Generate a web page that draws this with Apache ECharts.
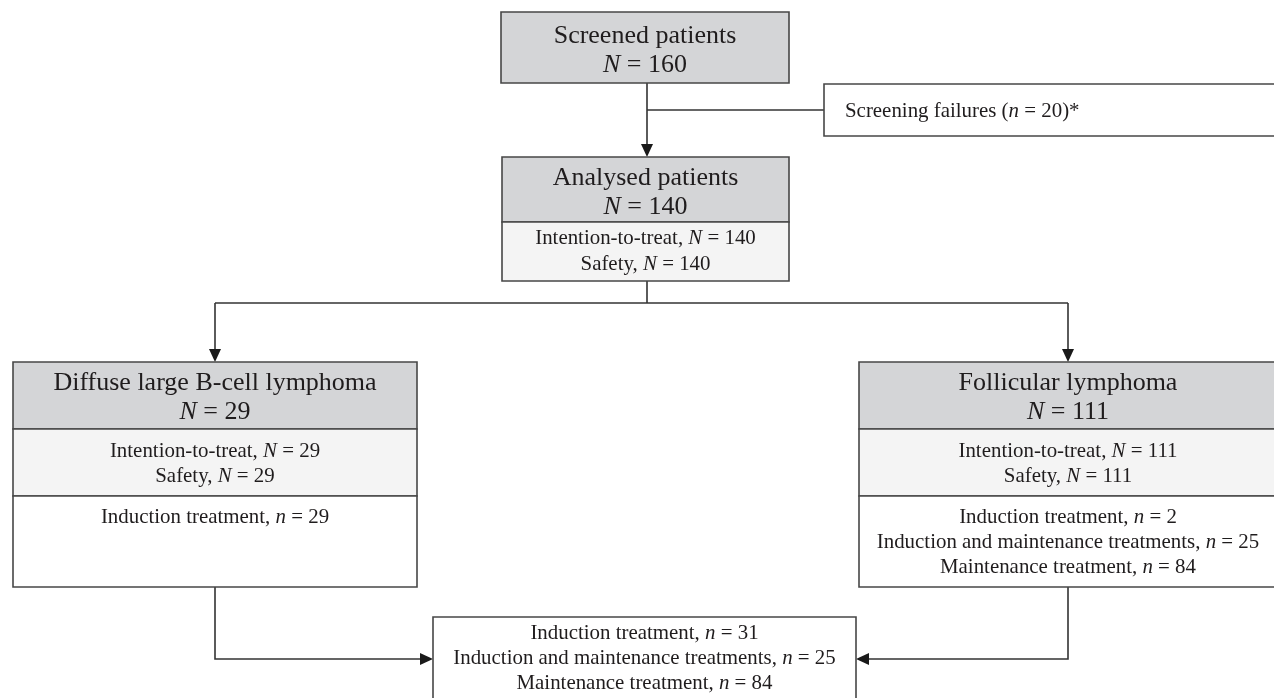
<!DOCTYPE html>
<html>
<head>
<meta charset="utf-8">
<script src="https://cdn.jsdelivr.net/npm/echarts@6/dist/echarts.min.js"></script>
<style>
html,body{margin:0;padding:0;background:#fff;}
#chart{width:1274px;height:698px;}
</style>
</head>
<body>
<div id="chart"></div>
<script>
// ---- Data ----
const stageLabels = ['Screened patients', 'Analysed patients', 'Diffuse large B-cell lymphoma', 'Follicular lymphoma'];
const stageN = [160, 140, 29, 111];
const ittN = [null, 140, 29, 111];
const safetyN = [null, 140, 29, 111];
const screeningFailuresN = 20;
const treatmentLabels = ['Induction treatment', 'Induction and maintenance treatments', 'Maintenance treatment'];
const dlbclTreatmentN = [29, null, null];
const flTreatmentN = [2, 25, 84];
const totalTreatmentN = [31, 25, 84];

// ---- Layout (axis units = pixels of the 1274x698 canvas) ----
const FONT = 'Liberation Serif, Times New Roman, serif';
const HEADER_FILL = '#d4d5d7';
const SUB_FILL = '#f4f4f4';
const WHITE = '#ffffff';
const BORDER = '#474747';
const TEXT = '#1f1c1d';
const H = 26, S = 20.9;

function headerText(i) { return stageLabels[i] + '\n{i|N} = ' + stageN[i]; }
function subText(i) { return 'Intention-to-treat, {i|N} = ' + ittN[i] + '\nSafety, {i|N} = ' + safetyN[i]; }
function treatText(arr) {
  return arr.map((v, k) => v == null ? null : treatmentLabels[k] + ', {i|n} = ' + v).filter(s => s).join('\n');
}

const sections = [
  // screened
  {x0: 501, x1: 789, y0: 12, y1: 83, fill: HEADER_FILL, text: headerText(0), size: H, lh: 29, va: 'middle', dy: 3},
  // analysed
  {x0: 502, x1: 789, y0: 157, y1: 222, fill: HEADER_FILL, text: headerText(1), size: H, lh: 29, va: 'middle', dy: 3},
  {x0: 502, x1: 789, y0: 222, y1: 281, fill: SUB_FILL, text: subText(1), size: S, lh: 25.5, va: 'middle', dy: 0},
  // screening failures
  {x0: 824, x1: 1282, y0: 84, y1: 136, fill: WHITE, text: 'Screening failures ({i|n} = ' + screeningFailuresN + ')*', size: S, lh: 25, va: 'middle', align: 'left', padX: 21, dy: 2},
  // DLBCL
  {x0: 13, x1: 417, y0: 362, y1: 429, fill: HEADER_FILL, text: headerText(2), size: H, lh: 29, va: 'middle', dy: 2},
  {x0: 13, x1: 417, y0: 429, y1: 496, fill: SUB_FILL, text: subText(2), size: S, lh: 25, va: 'middle', dy: 2},
  {x0: 13, x1: 417, y0: 496, y1: 587, fill: WHITE, text: treatText(dlbclTreatmentN), size: S, lh: 25, va: 'top', padY: 9},
  // FL
  {x0: 859, x1: 1282, y0: 362, y1: 429, fill: HEADER_FILL, text: headerText(3), size: H, lh: 29, va: 'middle', dy: 2, cx: 1068},
  {x0: 859, x1: 1282, y0: 429, y1: 496, fill: SUB_FILL, text: subText(3), size: S, lh: 25, va: 'middle', dy: 2, cx: 1068},
  {x0: 859, x1: 1282, y0: 496, y1: 587, fill: WHITE, text: treatText(flTreatmentN), size: S, lh: 25, va: 'top', padY: 9, cx: 1068},
  // Total
  {x0: 433, x1: 856, y0: 617, y1: 706, fill: WHITE, text: treatText(totalTreatmentN), size: S, lh: 25, va: 'top', padY: 4}
];

const connectors = [
  {pts: [[647, 83], [647, 157]], arrow: true},
  {pts: [[647, 110], [824, 110]], arrow: false},
  {pts: [[647, 281], [647, 303]], arrow: false},
  {pts: [[215, 303], [1068, 303]], arrow: false},
  {pts: [[215, 303], [215, 362]], arrow: true},
  {pts: [[1068, 303], [1068, 362]], arrow: true},
  {pts: [[215, 587], [215, 659], [433, 659]], arrow: true},
  {pts: [[1068, 587], [1068, 659], [856, 659]], arrow: true}
];

const chart = echarts.init(document.getElementById('chart'), null, {renderer: 'canvas'});

function renderBox(params, api) {
  const s = sections[params.dataIndex];
  const p0 = api.coord([s.x0, s.y0]);
  const p1 = api.coord([s.x1, s.y1]);
  const x = Math.min(p0[0], p1[0]), y = Math.min(p0[1], p1[1]);
  const w = Math.abs(p1[0] - p0[0]), h = Math.abs(p1[1] - p0[1]);
  const align = s.align || 'center';
  let tx;
  if (align === 'left') tx = x + (s.padX || 0);
  else tx = s.cx != null ? api.coord([s.cx, 0])[0] : x + w / 2;
  let ty = s.va === 'top' ? y + (s.padY || 0) : y + h / 2 + (s.dy || 0);
  return {
    type: 'group',
    children: [
      {type: 'rect', shape: {x: x, y: y, width: w, height: h},
       style: {fill: s.fill, stroke: BORDER, lineWidth: 1.6}},
      {type: 'text', style: {
        text: s.text, x: tx, y: ty, align: align, verticalAlign: s.va,
        fontFamily: FONT, fontSize: s.size, lineHeight: s.lh, fill: TEXT,
        rich: {i: {fontStyle: 'italic', fontFamily: FONT, fontSize: s.size, lineHeight: s.lh, fill: TEXT}}
      }}
    ]
  };
}

function renderConnector(params, api) {
  const c = connectors[params.dataIndex];
  const pts = c.pts.map(p => api.coord(p));
  const children = [];
  const n = pts.length;
  let linePts = pts.slice();
  if (c.arrow) {
    const a = pts[n - 2], b = pts[n - 1];
    const dx = b[0] - a[0], dy = b[1] - a[1];
    const len = Math.sqrt(dx * dx + dy * dy);
    const ux = dx / len, uy = dy / len;
    const L = 13, W = 6;
    const bx = b[0] - ux * L, by = b[1] - uy * L;
    linePts[n - 1] = [bx, by];
    children.push({type: 'polygon', shape: {points: [[b[0], b[1]], [bx - uy * W, by + ux * W], [bx + uy * W, by - ux * W]]},
      style: {fill: '#1a1a1a'}});
  }
  children.unshift({type: 'polyline', shape: {points: linePts}, style: {stroke: '#333333', lineWidth: 1.6, fill: null}});
  return {type: 'group', children: children};
}

chart.setOption({
  animation: false,
  backgroundColor: '#ffffff',
  grid: {left: 0, right: 0, top: 0, bottom: 0},
  xAxis: {type: 'value', min: 0, max: 1274, show: false},
  yAxis: {type: 'value', min: 0, max: 698, inverse: true, show: false},
  series: [
    {type: 'custom', silent: true, clip: false, renderItem: renderConnector, data: connectors.map((c, i) => [i]), z: 1},
    {type: 'custom', silent: true, clip: false, renderItem: renderBox, data: sections.map((s, i) => [i]), z: 2}
  ]
});
</script>
</body>
</html>
